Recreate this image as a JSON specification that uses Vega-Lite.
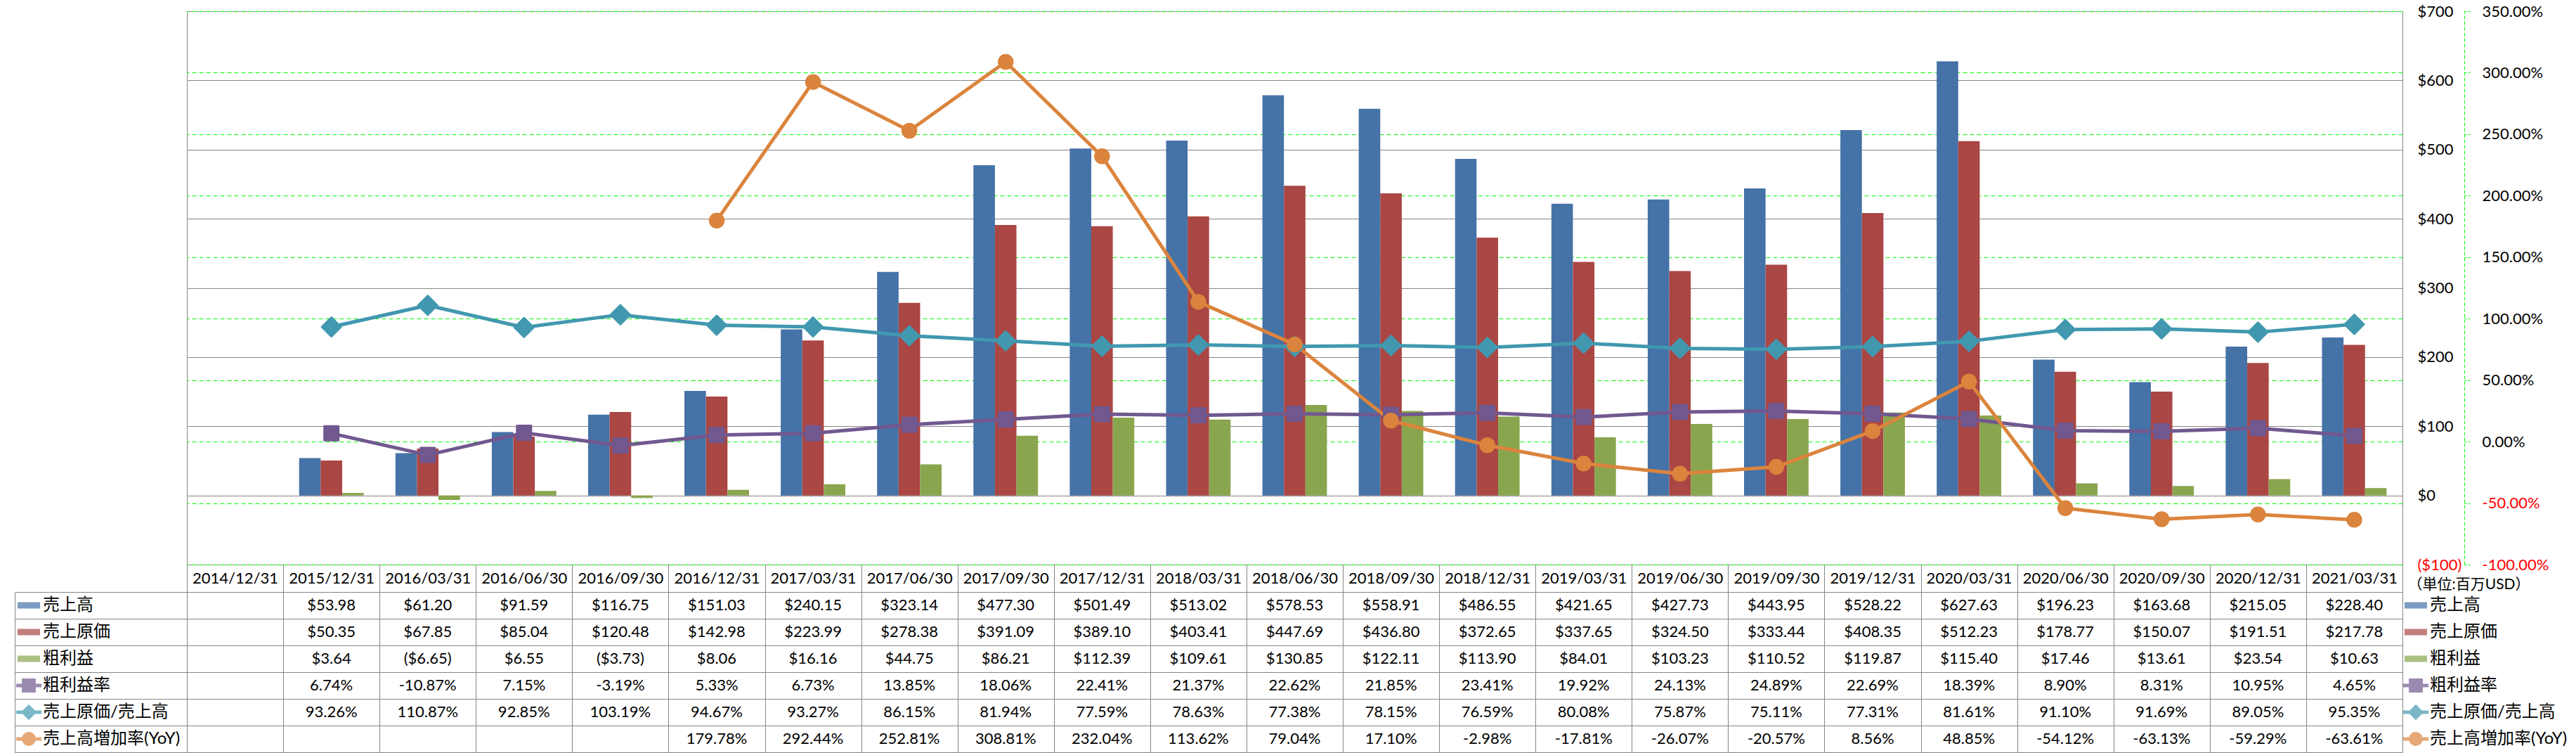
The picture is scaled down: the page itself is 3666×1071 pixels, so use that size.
{
  "$schema": "https://vega.github.io/schema/vega-lite/v6.json",
  "padding": {"left": 20, "top": 4, "right": 0, "bottom": 0},
  "background": "white",
  "config": {
    "font": "Lato, 'Noto Sans CJK JP', sans-serif",
    "locale": {"number": {"decimal": ".", "thousands": ",", "grouping": [3], "currency": ["$", ""], "minus": "-"}},
    "axis": {"labelColor": "#000000", "titleColor": "#000000"},
    "legend": {"labelColor": "#000000"}
  },
  "data": {"values": [
    {"date":"2015/12/31","series":"売上高","value":53.98},{"date":"2015/12/31","series":"売上原価","value":50.35},{"date":"2015/12/31","series":"粗利益","value":3.64},{"date":"2015/12/31","series":"粗利益率","value":0.0674},{"date":"2015/12/31","series":"売上原価/売上高","value":0.9326},
    {"date":"2016/03/31","series":"売上高","value":61.20},{"date":"2016/03/31","series":"売上原価","value":67.85},{"date":"2016/03/31","series":"粗利益","value":-6.65},{"date":"2016/03/31","series":"粗利益率","value":-0.1087},{"date":"2016/03/31","series":"売上原価/売上高","value":1.1087},
    {"date":"2016/06/30","series":"売上高","value":91.59},{"date":"2016/06/30","series":"売上原価","value":85.04},{"date":"2016/06/30","series":"粗利益","value":6.55},{"date":"2016/06/30","series":"粗利益率","value":0.0715},{"date":"2016/06/30","series":"売上原価/売上高","value":0.9285},
    {"date":"2016/09/30","series":"売上高","value":116.75},{"date":"2016/09/30","series":"売上原価","value":120.48},{"date":"2016/09/30","series":"粗利益","value":-3.73},{"date":"2016/09/30","series":"粗利益率","value":-0.0319},{"date":"2016/09/30","series":"売上原価/売上高","value":1.0319},
    {"date":"2016/12/31","series":"売上高","value":151.03},{"date":"2016/12/31","series":"売上原価","value":142.98},{"date":"2016/12/31","series":"粗利益","value":8.06},{"date":"2016/12/31","series":"粗利益率","value":0.0533},{"date":"2016/12/31","series":"売上原価/売上高","value":0.9467},{"date":"2016/12/31","series":"売上高増加率(YoY)","value":1.7978},
    {"date":"2017/03/31","series":"売上高","value":240.15},{"date":"2017/03/31","series":"売上原価","value":223.99},{"date":"2017/03/31","series":"粗利益","value":16.16},{"date":"2017/03/31","series":"粗利益率","value":0.0673},{"date":"2017/03/31","series":"売上原価/売上高","value":0.9327},{"date":"2017/03/31","series":"売上高増加率(YoY)","value":2.9244},
    {"date":"2017/06/30","series":"売上高","value":323.14},{"date":"2017/06/30","series":"売上原価","value":278.38},{"date":"2017/06/30","series":"粗利益","value":44.75},{"date":"2017/06/30","series":"粗利益率","value":0.1385},{"date":"2017/06/30","series":"売上原価/売上高","value":0.8615},{"date":"2017/06/30","series":"売上高増加率(YoY)","value":2.5281},
    {"date":"2017/09/30","series":"売上高","value":477.30},{"date":"2017/09/30","series":"売上原価","value":391.09},{"date":"2017/09/30","series":"粗利益","value":86.21},{"date":"2017/09/30","series":"粗利益率","value":0.1806},{"date":"2017/09/30","series":"売上原価/売上高","value":0.8194},{"date":"2017/09/30","series":"売上高増加率(YoY)","value":3.0881},
    {"date":"2017/12/31","series":"売上高","value":501.49},{"date":"2017/12/31","series":"売上原価","value":389.10},{"date":"2017/12/31","series":"粗利益","value":112.39},{"date":"2017/12/31","series":"粗利益率","value":0.2241},{"date":"2017/12/31","series":"売上原価/売上高","value":0.7759},{"date":"2017/12/31","series":"売上高増加率(YoY)","value":2.3204},
    {"date":"2018/03/31","series":"売上高","value":513.02},{"date":"2018/03/31","series":"売上原価","value":403.41},{"date":"2018/03/31","series":"粗利益","value":109.61},{"date":"2018/03/31","series":"粗利益率","value":0.2137},{"date":"2018/03/31","series":"売上原価/売上高","value":0.7863},{"date":"2018/03/31","series":"売上高増加率(YoY)","value":1.1362},
    {"date":"2018/06/30","series":"売上高","value":578.53},{"date":"2018/06/30","series":"売上原価","value":447.69},{"date":"2018/06/30","series":"粗利益","value":130.85},{"date":"2018/06/30","series":"粗利益率","value":0.2262},{"date":"2018/06/30","series":"売上原価/売上高","value":0.7738},{"date":"2018/06/30","series":"売上高増加率(YoY)","value":0.7904},
    {"date":"2018/09/30","series":"売上高","value":558.91},{"date":"2018/09/30","series":"売上原価","value":436.80},{"date":"2018/09/30","series":"粗利益","value":122.11},{"date":"2018/09/30","series":"粗利益率","value":0.2185},{"date":"2018/09/30","series":"売上原価/売上高","value":0.7815},{"date":"2018/09/30","series":"売上高増加率(YoY)","value":0.1710},
    {"date":"2018/12/31","series":"売上高","value":486.55},{"date":"2018/12/31","series":"売上原価","value":372.65},{"date":"2018/12/31","series":"粗利益","value":113.90},{"date":"2018/12/31","series":"粗利益率","value":0.2341},{"date":"2018/12/31","series":"売上原価/売上高","value":0.7659},{"date":"2018/12/31","series":"売上高増加率(YoY)","value":-0.0298},
    {"date":"2019/03/31","series":"売上高","value":421.65},{"date":"2019/03/31","series":"売上原価","value":337.65},{"date":"2019/03/31","series":"粗利益","value":84.01},{"date":"2019/03/31","series":"粗利益率","value":0.1992},{"date":"2019/03/31","series":"売上原価/売上高","value":0.8008},{"date":"2019/03/31","series":"売上高増加率(YoY)","value":-0.1781},
    {"date":"2019/06/30","series":"売上高","value":427.73},{"date":"2019/06/30","series":"売上原価","value":324.50},{"date":"2019/06/30","series":"粗利益","value":103.23},{"date":"2019/06/30","series":"粗利益率","value":0.2413},{"date":"2019/06/30","series":"売上原価/売上高","value":0.7587},{"date":"2019/06/30","series":"売上高増加率(YoY)","value":-0.2607},
    {"date":"2019/09/30","series":"売上高","value":443.95},{"date":"2019/09/30","series":"売上原価","value":333.44},{"date":"2019/09/30","series":"粗利益","value":110.52},{"date":"2019/09/30","series":"粗利益率","value":0.2489},{"date":"2019/09/30","series":"売上原価/売上高","value":0.7511},{"date":"2019/09/30","series":"売上高増加率(YoY)","value":-0.2057},
    {"date":"2019/12/31","series":"売上高","value":528.22},{"date":"2019/12/31","series":"売上原価","value":408.35},{"date":"2019/12/31","series":"粗利益","value":119.87},{"date":"2019/12/31","series":"粗利益率","value":0.2269},{"date":"2019/12/31","series":"売上原価/売上高","value":0.7731},{"date":"2019/12/31","series":"売上高増加率(YoY)","value":0.0856},
    {"date":"2020/03/31","series":"売上高","value":627.63},{"date":"2020/03/31","series":"売上原価","value":512.23},{"date":"2020/03/31","series":"粗利益","value":115.40},{"date":"2020/03/31","series":"粗利益率","value":0.1839},{"date":"2020/03/31","series":"売上原価/売上高","value":0.8161},{"date":"2020/03/31","series":"売上高増加率(YoY)","value":0.4885},
    {"date":"2020/06/30","series":"売上高","value":196.23},{"date":"2020/06/30","series":"売上原価","value":178.77},{"date":"2020/06/30","series":"粗利益","value":17.46},{"date":"2020/06/30","series":"粗利益率","value":0.0890},{"date":"2020/06/30","series":"売上原価/売上高","value":0.9110},{"date":"2020/06/30","series":"売上高増加率(YoY)","value":-0.5412},
    {"date":"2020/09/30","series":"売上高","value":163.68},{"date":"2020/09/30","series":"売上原価","value":150.07},{"date":"2020/09/30","series":"粗利益","value":13.61},{"date":"2020/09/30","series":"粗利益率","value":0.0831},{"date":"2020/09/30","series":"売上原価/売上高","value":0.9169},{"date":"2020/09/30","series":"売上高増加率(YoY)","value":-0.6313},
    {"date":"2020/12/31","series":"売上高","value":215.05},{"date":"2020/12/31","series":"売上原価","value":191.51},{"date":"2020/12/31","series":"粗利益","value":23.54},{"date":"2020/12/31","series":"粗利益率","value":0.1095},{"date":"2020/12/31","series":"売上原価/売上高","value":0.8905},{"date":"2020/12/31","series":"売上高増加率(YoY)","value":-0.5929},
    {"date":"2021/03/31","series":"売上高","value":228.40},{"date":"2021/03/31","series":"売上原価","value":217.78},{"date":"2021/03/31","series":"粗利益","value":10.63},{"date":"2021/03/31","series":"粗利益率","value":0.0465},{"date":"2021/03/31","series":"売上原価/売上高","value":0.9535},{"date":"2021/03/31","series":"売上高増加率(YoY)","value":-0.6361}
  ]},
  "bounds": "flush",
  "spacing": 39,
  "resolve": {"scale": {"color": "independent", "shape": "independent"}, "legend": {"color": "independent", "shape": "independent"}},
  "vconcat": [
    {
      "width": 3153,
      "height": 787,
      "view": {"stroke": "#868686", "strokeWidth": 1},
      "layer": [
        {
          "transform": [{"filter": {"field": "series", "oneOf": ["売上高", "売上原価", "粗利益"]}}],
          "mark": {"type": "bar"},
          "encoding": {
            "x": {"field": "date", "type": "nominal", "scale": {"domain": ["2014/12/31","2015/12/31","2016/03/31","2016/06/30","2016/09/30","2016/12/31","2017/03/31","2017/06/30","2017/09/30","2017/12/31","2018/03/31","2018/06/30","2018/09/30","2018/12/31","2019/03/31","2019/06/30","2019/09/30","2019/12/31","2020/03/31","2020/06/30","2020/09/30","2020/12/31","2021/03/31"], "paddingInner": 0.33, "paddingOuter": 0.165}, "axis": null},
            "xOffset": {"field": "series", "type": "nominal", "scale": {"domain": ["売上高", "売上原価", "粗利益"], "paddingInner": 0, "paddingOuter": 0}},
            "y": {"field": "value", "type": "quantitative", "scale": {"domain": [-100, 700], "nice": false, "zero": false},
              "axis": {"orient": "right", "title": null, "values": [-100, 0, 100, 200, 300, 400, 500, 600, 700], "format": "($,.0f", "domain": false, "ticks": false, "labelPadding": 21, "labelAlign": "left", "labelBaseline": "middle", "labelFontSize": 22, "labelColor": {"condition": {"test": "datum.value < 0", "value": "#FF0000"}, "value": "#000000"}, "grid": true, "gridColor": "#868686", "gridWidth": 1}},
            "fill": {"field": "series", "type": "nominal", "scale": {"domain": ["売上高","売上原価","粗利益"], "range": ["#4572A7","#AA4643","#89A54E"]}, "legend": null}
          }
        },
        {
          "layer": [
            {
              "transform": [{"filter": {"field": "series", "oneOf": ["粗利益率", "売上原価/売上高", "売上高増加率(YoY)"]}}],
              "mark": {"type": "line", "strokeWidth": 5, "strokeCap": "round", "strokeJoin": "round"},
              "encoding": {
                "x": {"field": "date", "type": "nominal", "axis": null},
                "y": {"field": "value", "type": "quantitative", "scale": {"domain": [-1, 3.5], "nice": false, "zero": false},
                  "axis": {"orient": "right", "offset": 88, "title": null, "values": [-1, -0.5, 0, 0.5, 1, 1.5, 2, 2.5, 3, 3.5], "format": ".2%", "domain": true, "domainColor": "#00FF00", "domainDash": [5, 3], "domainWidth": 1, "ticks": true, "tickSize": 9, "tickColor": "#00FF00", "tickDash": [3, 2], "tickWidth": 1, "labelPadding": 16, "labelAlign": "left", "labelBaseline": "middle", "labelFontSize": 22, "labelColor": {"condition": {"test": "datum.value < 0", "value": "#FF0000"}, "value": "#000000"}, "grid": true, "gridColor": "#00FF00", "gridDash": [6, 4], "gridWidth": 1}},
                "stroke": {"field": "series", "type": "nominal", "scale": {"domain": ["粗利益率","売上原価/売上高","売上高増加率(YoY)"], "range": ["#71588F","#4198AF","#DB843D"]}, "legend": null}
              }
            },
            {
              "transform": [{"filter": "datum.series === '粗利益率'"}],
              "mark": {"type": "point", "shape": "square", "filled": true, "size": 400, "fill": "#71588F", "stroke": "#71588F", "strokeWidth": 3, "strokeJoin": "round", "opacity": 1},
              "encoding": {
                "x": {"field": "date", "type": "nominal", "axis": null},
                "y": {"field": "value", "type": "quantitative", "scale": {"domain": [-1, 3.5], "nice": false, "zero": false},
                  "axis": {"orient": "right", "offset": 88, "title": null, "values": [-1, -0.5, 0, 0.5, 1, 1.5, 2, 2.5, 3, 3.5], "format": ".2%", "domain": true, "domainColor": "#00FF00", "domainDash": [5, 3], "domainWidth": 1, "ticks": true, "tickSize": 9, "tickColor": "#00FF00", "tickDash": [3, 2], "tickWidth": 1, "labelPadding": 16, "labelAlign": "left", "labelBaseline": "middle", "labelFontSize": 22, "labelColor": {"condition": {"test": "datum.value < 0", "value": "#FF0000"}, "value": "#000000"}, "grid": true, "gridColor": "#00FF00", "gridDash": [6, 4], "gridWidth": 1}}
              }
            },
            {
              "transform": [{"filter": "datum.series === '売上原価/売上高'"}],
              "mark": {"type": "point", "shape": "diamond", "filled": true, "size": 729, "fill": "#4198AF", "stroke": "#4198AF", "strokeWidth": 3, "strokeJoin": "round", "opacity": 1},
              "encoding": {
                "x": {"field": "date", "type": "nominal", "axis": null},
                "y": {"field": "value", "type": "quantitative", "scale": {"domain": [-1, 3.5], "nice": false, "zero": false},
                  "axis": {"orient": "right", "offset": 88, "title": null, "values": [-1, -0.5, 0, 0.5, 1, 1.5, 2, 2.5, 3, 3.5], "format": ".2%", "domain": true, "domainColor": "#00FF00", "domainDash": [5, 3], "domainWidth": 1, "ticks": true, "tickSize": 9, "tickColor": "#00FF00", "tickDash": [3, 2], "tickWidth": 1, "labelPadding": 16, "labelAlign": "left", "labelBaseline": "middle", "labelFontSize": 22, "labelColor": {"condition": {"test": "datum.value < 0", "value": "#FF0000"}, "value": "#000000"}, "grid": true, "gridColor": "#00FF00", "gridDash": [6, 4], "gridWidth": 1}}
              }
            },
            {
              "transform": [{"filter": "datum.series === '売上高増加率(YoY)'"}],
              "mark": {"type": "point", "shape": "circle", "filled": true, "size": 420, "fill": "#DB843D", "stroke": "#DB843D", "strokeWidth": 2, "opacity": 1},
              "encoding": {
                "x": {"field": "date", "type": "nominal", "axis": null},
                "y": {"field": "value", "type": "quantitative", "scale": {"domain": [-1, 3.5], "nice": false, "zero": false},
                  "axis": {"orient": "right", "offset": 88, "title": null, "values": [-1, -0.5, 0, 0.5, 1, 1.5, 2, 2.5, 3, 3.5], "format": ".2%", "domain": true, "domainColor": "#00FF00", "domainDash": [5, 3], "domainWidth": 1, "ticks": true, "tickSize": 9, "tickColor": "#00FF00", "tickDash": [3, 2], "tickWidth": 1, "labelPadding": 16, "labelAlign": "left", "labelBaseline": "middle", "labelFontSize": 22, "labelColor": {"condition": {"test": "datum.value < 0", "value": "#FF0000"}, "value": "#000000"}, "grid": true, "gridColor": "#00FF00", "gridDash": [6, 4], "gridWidth": 1}}
              }
            },
            {
              "mark": {"type": "point", "filled": true, "size": 0},
              "encoding": {
                "color": {"field": "series", "type": "nominal", "scale": {"domain": ["売上高","売上原価","粗利益","粗利益率","売上原価/売上高","売上高増加率(YoY)"], "range": ["#4572A7","#AA4643","#89A54E","#71588F","#4198AF","#DB843D"]},
                  "legend": {"orient": "none", "legendX": 3154, "legendY": 826, "title": null, "direction": "vertical", "labelFontSize": 24, "labelLimit": 400, "symbolSize": 1296, "symbolStrokeWidth": 0, "rowPadding": 0, "clipHeight": 38, "labelOffset": 2, "padding": 0}},
                "shape": {"field": "series", "type": "nominal", "scale": {"domain": ["売上高","売上原価","粗利益","粗利益率","売上原価/売上高","売上高増加率(YoY)"], "range": ["M-0.89,-0.25H0.89V0.25H-0.89Z","M-0.89,-0.25H0.89V0.25H-0.89Z","M-0.89,-0.25H0.89V0.25H-0.89Z","M-1,-0.14H1V0.14H-1Z M-0.55,-0.55H0.55V0.55H-0.55Z","M-1,-0.14H1V0.14H-1Z M0,-0.62L0.62,0L0,0.62L-0.62,0Z","M-1,-0.14H1V0.14H-1Z M-0.55,0A0.55,0.55 0 1,1 0.55,0A0.55,0.55 0 1,1 -0.55,0Z"]},
                  "legend": {"orient": "none", "legendX": 3154, "legendY": 826, "title": null, "direction": "vertical", "labelFontSize": 24, "labelLimit": 400, "symbolSize": 1296, "symbolStrokeWidth": 0, "rowPadding": 0, "clipHeight": 38, "labelOffset": 2, "padding": 0}}
              }
            }
          ]
        }
      ],
      "resolve": {"scale": {"y": "independent"}}
    },
    {
      "width": 3153,
      "height": 228,
      "view": {"stroke": null},
      "layer": [
        {
          "layer": [
            {
              "transform": [{"filter": {"field": "series", "oneOf": ["売上高", "売上原価", "粗利益"]}}],
              "mark": {"type": "text", "fontSize": 22, "align": "center", "baseline": "middle", "color": "#000000"},
              "encoding": {
                "x": {"field": "date", "type": "nominal", "scale": {"domain": ["2014/12/31","2015/12/31","2016/03/31","2016/06/30","2016/09/30","2016/12/31","2017/03/31","2017/06/30","2017/09/30","2017/12/31","2018/03/31","2018/06/30","2018/09/30","2018/12/31","2019/03/31","2019/06/30","2019/09/30","2019/12/31","2020/03/31","2020/06/30","2020/09/30","2020/12/31","2021/03/31"], "paddingInner": 0, "paddingOuter": 0},
                  "axis": {"orient": "top", "title": "（単位:百万USD）", "titleX": 3160, "titleY": -11, "titleAlign": "left", "titleBaseline": "middle", "titleAngle": 0, "titleFontSize": 21, "titleFontWeight": "normal", "titlePadding": 0, "labelAngle": 0, "labelFontSize": 22, "labelBaseline": "middle", "labelAlign": "center", "labelPadding": -19.5, "labelOverlap": false, "labelLimit": 300, "ticks": true, "tickSize": 39, "tickColor": "#868686", "tickBand": "extent", "domain": true, "domainColor": "#868686", "grid": true, "gridColor": "#868686"}},
                "y": {"field": "series", "type": "nominal", "scale": {"domain": ["売上高","売上原価","粗利益","粗利益率","売上原価/売上高","売上高増加率(YoY)"], "paddingInner": 0, "paddingOuter": 0},
                  "axis": {"orient": "left", "title": null, "labels": false, "ticks": true, "tickSize": 245, "tickColor": "#868686", "tickBand": "extent", "domain": true, "domainColor": "#868686", "grid": true, "gridColor": "#868686"}},
                "text": {"field": "value", "type": "quantitative", "format": "($,.2f"}
              }
            },
            {
              "transform": [{"filter": {"field": "series", "oneOf": ["粗利益率", "売上原価/売上高", "売上高増加率(YoY)"]}}],
              "mark": {"type": "text", "fontSize": 22, "align": "center", "baseline": "middle", "color": "#000000"},
              "encoding": {
                "x": {"field": "date", "type": "nominal", "scale": {"domain": ["2014/12/31","2015/12/31","2016/03/31","2016/06/30","2016/09/30","2016/12/31","2017/03/31","2017/06/30","2017/09/30","2017/12/31","2018/03/31","2018/06/30","2018/09/30","2018/12/31","2019/03/31","2019/06/30","2019/09/30","2019/12/31","2020/03/31","2020/06/30","2020/09/30","2020/12/31","2021/03/31"], "paddingInner": 0, "paddingOuter": 0},
                  "axis": {"orient": "top", "title": "（単位:百万USD）", "titleX": 3160, "titleY": -11, "titleAlign": "left", "titleBaseline": "middle", "titleAngle": 0, "titleFontSize": 21, "titleFontWeight": "normal", "titlePadding": 0, "labelAngle": 0, "labelFontSize": 22, "labelBaseline": "middle", "labelAlign": "center", "labelPadding": -19.5, "labelOverlap": false, "labelLimit": 300, "ticks": true, "tickSize": 39, "tickColor": "#868686", "tickBand": "extent", "domain": true, "domainColor": "#868686", "grid": true, "gridColor": "#868686"}},
                "y": {"field": "series", "type": "nominal", "scale": {"domain": ["売上高","売上原価","粗利益","粗利益率","売上原価/売上高","売上高増加率(YoY)"], "paddingInner": 0, "paddingOuter": 0},
                  "axis": {"orient": "left", "title": null, "labels": false, "ticks": true, "tickSize": 245, "tickColor": "#868686", "tickBand": "extent", "domain": true, "domainColor": "#868686", "grid": true, "gridColor": "#868686"}},
                "text": {"field": "value", "type": "quantitative", "format": ".2%"}
              }
            },
            {
              "mark": {"type": "point", "filled": true, "size": 0},
              "encoding": {
                "color": {"field": "series", "type": "nominal", "scale": {"domain": ["売上高","売上原価","粗利益","粗利益率","売上原価/売上高","売上高増加率(YoY)"], "range": ["#4572A7","#AA4643","#89A54E","#71588F","#4198AF","#DB843D"]},
                  "legend": {"orient": "none", "legendX": -243, "legendY": 0, "title": null, "direction": "vertical", "labelFontSize": 24, "labelLimit": 400, "symbolSize": 1296, "symbolStrokeWidth": 0, "rowPadding": 0, "clipHeight": 38, "labelOffset": 2, "padding": 0}},
                "shape": {"field": "series", "type": "nominal", "scale": {"domain": ["売上高","売上原価","粗利益","粗利益率","売上原価/売上高","売上高増加率(YoY)"], "range": ["M-0.89,-0.25H0.89V0.25H-0.89Z","M-0.89,-0.25H0.89V0.25H-0.89Z","M-0.89,-0.25H0.89V0.25H-0.89Z","M-1,-0.14H1V0.14H-1Z M-0.55,-0.55H0.55V0.55H-0.55Z","M-1,-0.14H1V0.14H-1Z M0,-0.62L0.62,0L0,0.62L-0.62,0Z","M-1,-0.14H1V0.14H-1Z M-0.55,0A0.55,0.55 0 1,1 0.55,0A0.55,0.55 0 1,1 -0.55,0Z"]},
                  "legend": {"orient": "none", "legendX": -243, "legendY": 0, "title": null, "direction": "vertical", "labelFontSize": 24, "labelLimit": 400, "symbolSize": 1296, "symbolStrokeWidth": 0, "rowPadding": 0, "clipHeight": 38, "labelOffset": 2, "padding": 0}}
              }
            }
          ]
        },
        {
          "mark": {"type": "point", "size": 0, "opacity": 0},
          "encoding": {
            "y": {"field": "series", "type": "nominal", "scale": {"domain": ["売上高","売上原価","粗利益","粗利益率","売上原価/売上高","売上高増加率(YoY)"], "paddingInner": 0, "paddingOuter": 0},
              "axis": {"orient": "left", "offset": 245, "title": null, "labels": false, "ticks": false, "grid": false, "domain": true, "domainColor": "#868686"}}
          }
        }
      ],
      "resolve": {"scale": {"y": "independent"}}
    }
  ]
}
